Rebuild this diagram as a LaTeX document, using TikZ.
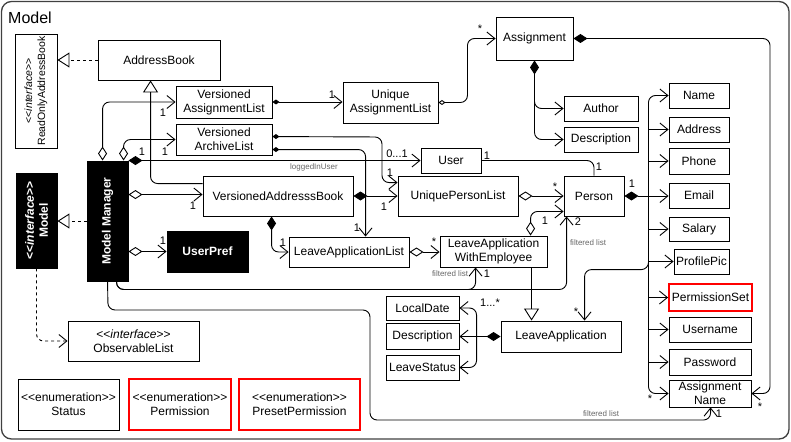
\documentclass[tikz,border=0pt]{standalone}
\usepackage{fontspec}
\setmainfont{Liberation Sans}
\usetikzlibrary{arrows.meta,calc}
\newcommand\lgl{<{}<}
\newcommand\rgr{>{}>}
\newcommand\bx[7][box]{\node[#1, minimum width={(#5-#3)*1pt}, minimum height={(#6-#4)*1pt}] (#2) at ({(#3+#5)/2},{(#4+#6)/2}) {#7};}
\newcommand\lab[4]{\node[lbl] (#1) at (#2,#3) {#4};}
\newcommand\glab[4]{\node[glbl] (#1) at (#2,#3) {#4};}
\tikzset{
  openA/.tip={Straight Barb[length=8pt,width=13pt]},
  hDia/.tip={Diamond[open,length=14pt,width=9pt]},
  fDia/.tip={Diamond[length=14pt,width=9pt]},
  sfDia/.tip={Diamond[length=7pt,width=5pt]},
  shDia/.tip={Diamond[open,length=7pt,width=5pt]},
  hTri/.tip={Triangle[open,length=12pt,width=15pt]},
  box/.style={draw=black, line width=0.9pt, fill=white, inner sep=0pt, align=center, font=\fontsize{12}{14}\selectfont},
  redb/.style={box, draw=red, line width=1.8pt},
  blk/.style={box, fill=black, text=white, font=\fontsize{12}{14}\selectfont\bfseries},
  lbl/.style={font=\fontsize{11}{12}\selectfont, inner sep=0},
  glbl/.style={font=\fontsize{8}{9}\selectfont, text=black!60, inner sep=0},
  ln/.style={line width=0.9pt, rounded corners=7pt},
  dsh/.style={ln, dash pattern=on 3pt off 3pt},
}
\begin{document}
\begin{tikzpicture}[x=1pt,y=-1pt]
\useasboundingbox (0,0) rectangle (791,441);
\draw[line width=1.3pt, draw=black!75, rounded corners=10pt] (1.5,1.5) rectangle (789,439);
\node[anchor=west, font=\fontsize{16}{18}\selectfont, inner sep=0] (title) at (8,18) {Model};

% boxes
\bx{ROAB}{15}{34}{57}{148}{}
\node[rotate=90, align=center, font=\fontsize{10.5}{13}\selectfont, inner sep=0] (ROABt) at (ROAB.center) {\lgl\textit{interface}\rgr\\ReadOnlyAddressBook};
\bx{AB}{98}{40}{220}{80}{AddressBook}
\bx{VAL}{176}{86}{272}{118}{Versioned\\AssignmentList}
\bx{VArch}{176}{124}{272}{155}{Versioned\\ArchiveList}
\bx{UAL}{343}{82}{438}{123}{Unique\\AssignmentList}
\bx{Asg}{496}{17}{573}{60}{Assignment}
\bx{Author}{564}{96}{638}{121}{Author}
\bx{Desc}{564}{127}{638}{152}{Description}
\bx{Name}{669}{83}{729}{108}{Name}
\bx{Address}{669}{117}{729}{142}{Address}
\bx{Phone}{669}{148}{729}{174}{Phone}
\bx{Email}{669}{183}{729}{208}{Email}
\bx{Salary}{669}{217}{729}{241}{Salary}
\bx{ProfilePic}{674}{249}{729}{274}{ProfilePic}
\bx[redb]{PermSet}{669}{284}{752}{311}{PermissionSet}
\bx{Username}{669}{317}{751}{342}{Username}
\bx{Password}{669}{349}{751}{375}{Password}
\bx{AN}{669}{380}{751}{407}{Assignment\\Name}
\bx{User}{421}{148}{481}{173}{User}
\bx{UPL}{398}{176}{518}{216}{UniquePersonList}
\bx{Person}{564}{176}{624}{216}{Person}
\bx{VAB}{203}{176}{353}{216}{VersionedAddresssBook}
\bx{LAL}{289}{237}{409}{267}{LeaveApplicationList}
\bx{LAWE}{440}{236}{547}{267}{LeaveApplication\\WithEmployee}
\bx[blk]{UP}{167}{231}{248}{272}{UserPref}
\bx[blk]{MM}{87}{161}{128}{281}{}
\node[rotate=90, text=white, font=\fontsize{12}{14}\selectfont\bfseries, inner sep=0] (MMt) at (MM.center) {Model Manager};
\bx[blk]{MI}{16}{173}{57}{268}{}
\node[rotate=90, align=center, text=white, font=\fontsize{12}{14}\selectfont\bfseries, inner sep=0] (MIt) at (MI.center) {\lgl\textit{interface}\rgr\\Model};
\bx{OL}{68}{321}{199}{361}{\lgl\textit{interface}\rgr\\ObservableList}
\bx{Status}{18}{379}{119}{430}{\lgl enumeration\rgr\\Status}
\bx[redb]{Perm}{129}{379}{231}{430}{\lgl enumeration\rgr\\Permission}
\bx[redb]{PPerm}{239}{379}{360}{430}{\lgl enumeration\rgr\\PresetPermission}
\bx{LD}{386}{296}{459}{320}{LocalDate}
\bx{Desc2}{386}{323}{459}{349}{Description}
\bx{LS}{386}{355}{459}{380}{LeaveStatus}
\bx{LA}{501}{321}{621}{352}{LeaveApplication}

% connectors
\draw[dsh, -hTri] (AB.west) -- (AB.west -| ROAB.east);
\coordinate (vabL) at ($(VAB.north west)+(0,8)$);
\coordinate (abB) at ($(AB.south west)+(53,0)$);
\draw[ln, -hTri] (vabL) -| (abB);
\coordinate (mm1) at ($(MM.north west)+(16,0)$);
\coordinate (mm2) at ($(MM.north west)+(37,0)$);
\draw[ln, hDia-openA] (mm1) |- (VAL.west);
\draw[ln, hDia-openA] (mm2) |- (VArch.west);
\draw[ln, fDia-openA] (MM.north east) -- (MM.north east -| User.west);
\draw[ln, sfDia-openA] (VAL.east) -- (VAL.east -| UAL.west);
\draw[ln, shDia-openA] (UAL.east) -- ++(29,0) |- (Asg.west);
\draw[ln, -openA] (Asg.south) |- (Desc.west);
\draw[ln, fDia-openA] (Asg.south) |- (Author.west);
\draw[ln, fDia-openA] (Asg.east) -- (770,38.5) |- (AN.east);
\coordinate (va1) at ($(VArch.north east)+(0,13)$);
\coordinate (va2) at ($(VArch.north east)+(0,26)$);
\coordinate (uplT) at ($(UPL.north west)+(0,7)$);
\coordinate (lalT) at ($(LAL.north west)+(77,0)$);
\draw[ln, sfDia-openA] (va1) -- (382,137) |- (uplT);
\draw[ln, sfDia-openA] (va2) -| (lalT);
\draw[ln, fDia-openA] (VAB.east) -- (UPL.west);
\coordinate (vabB) at ($(VAB.south west)+(69,0)$);
\draw[ln, fDia-openA] (vabB) |- (LAL.west);
\coordinate (mmR) at ($(MM.north east)+(0,34)$);
\draw[ln, hDia-openA] (mmR) -- (mmR -| VAB.west);
\draw[ln, hDia-openA] (UP.west -| MM.east) -- (UP.west);
\draw[dsh, -hTri] (MM.west) -- (MM.west -| MI.east);
\draw[dsh, -openA] (MI.south) |- (OL.west);
\coordinate (mmB1) at ($(MM.south west)+(30,0)$);
\coordinate (mmB2) at ($(MM.south west)+(21,0)$);
\coordinate (perB) at ($(Person.south west)+(3,0)$);
\coordinate (laweB) at ($(LAWE.south west)+(36,0)$);
\coordinate (anB) at ($(AN.south west)+(42,0)$);
\draw[ln, -openA] (mmB1) -- ++(0,8) -| (perB);
\draw[ln, -openA] (mmB1) -- ++(0,8) -| (laweB);
\draw[ln, -openA] (mmB2) -- (108,310) -- (370,310) -- (370,420) -| (anB);
\draw[ln, hDia-openA] (UPL.east) -- (Person.west);
\coordinate (laweT) at ($(LAWE.north west)+(91,0)$);
\coordinate (perL) at ($(Person.south west)+(0,-5)$);
\draw[ln, hDia-openA] (laweT) |- (perL);
\draw[ln, hDia-openA] (LAL.east) -- (LAL.east -| LAWE.west);
\coordinate (laweB2) at ($(LAWE.south west)+(92,0)$);
\draw[ln, -hTri] (laweB2) -- (laweB2 |- LA.north);
% person attributes
\coordinate (bus) at ($(Person.east)+(24,0)$);
\draw[ln, -openA] (bus) |- (Name.west);
\draw[ln, sharp corners, -openA] (bus) |- (Address.west);
\draw[ln, sharp corners, -openA] (bus) |- (Phone.west);
\draw[ln, sharp corners, -openA] (bus) |- (Salary.west);
\draw[ln, sharp corners, -openA] (bus) |- (ProfilePic.west);
\draw[ln, sharp corners, -openA] (bus) |- (PermSet.west);
\draw[ln, sharp corners, -openA] (bus) |- (Username.west);
\draw[ln, sharp corners, -openA] (bus) |- (Password.west);
\draw[ln, -openA] (bus) |- (AN.west);
\coordinate (laT) at ($(LA.north west)+(84,0)$);
\draw[ln, -openA] (bus) |- ($(laT)+(0,-51)$) -- (laT);
\draw[ln, fDia-openA] (Person.east) -- (Person.east -| Email.west);
\draw[ln] (User.east) -| (Person.north);
% leave application attributes
\coordinate (lav) at ($(LA.west)+(-24,0)$);
\draw[ln, -openA] (lav) |- (LD.east);
\draw[ln, -openA] (lav) |- (LS.east);
\draw[ln, fDia-openA] (LA.west) -- (LA.west -| Desc2.east);

% labels
\lab{m1}{163}{113}{1}
\lab{m2}{165}{152}{1}
\lab{m3}{142}{152}{1}
\lab{m4}{332}{95}{1}
\lab{m5}{480}{29}{*}
\lab{m6}{397}{154}{0...1}
\glab{g1}{314}{167}{loggedInUser}
\lab{m7}{487}{156}{1}
\lab{m8}{599}{167}{1}
\lab{m9}{390}{173}{1}
\lab{m10}{384}{207}{1}
\lab{m11}{357}{228}{1}
\lab{m12}{283}{243}{1}
\lab{m13}{434}{242}{*}
\lab{m14}{555}{187}{*}
\lab{m15}{545}{221}{1}
\lab{m16}{578}{222}{2}
\glab{g2}{588}{243}{filtered list}
\glab{g3}{450}{274}{filtered list}
\lab{m17}{487}{274}{1}
\lab{m18}{632}{184}{1}
\lab{m19}{490}{303}{1...*}
\lab{m20}{576}{312}{*}
\lab{m21}{650}{399}{*}
\lab{m22}{760}{407}{*}
\glab{g4}{601}{414}{filtered list}
\lab{m23}{719}{414}{1}
\lab{m24}{193}{206}{1}
\lab{m25}{163}{241}{1}
\end{tikzpicture}
\end{document}
